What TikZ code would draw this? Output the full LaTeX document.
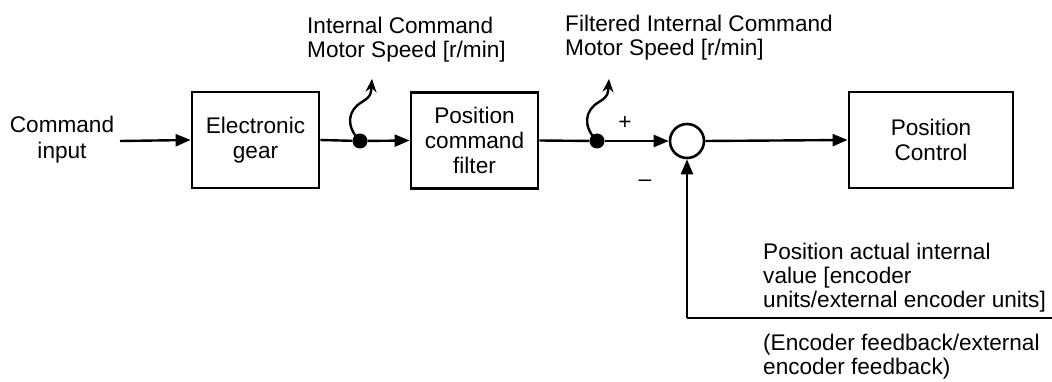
\documentclass[tikz,border=0pt]{standalone}
\usepackage{fontspec}
\setmainfont{Liberation Sans}
\usetikzlibrary{arrows.meta}
\begin{document}
\begin{tikzpicture}[x=1pt,y=-1pt,
  txt/.style={font=\fontsize{22.6}{24}\selectfont, inner sep=0pt, align=left},
  ctxt/.style={font=\fontsize{22.6}{26}\selectfont, inner sep=0pt, align=center},
  blockbox/.style={draw, line width=2.8pt, minimum height=96pt, font=\fontsize{22.6}{25}\selectfont, align=center, inner sep=0pt},
  sig/.style={line width=2.4pt, -{Triangle[length=15pt,width=12pt]}},
  dotnode/.style={circle, fill, inner sep=0pt, minimum size=15pt},
  wave/.style={line width=2.4pt, -{Stealth[length=13pt,width=11pt]}}]
\useasboundingbox (0,0) rectangle (1052,382);
% text
\node[ctxt] (cmd) at (62,140) {Command\\input};
% boxes
\node[blockbox, minimum width=127pt] (eg) at (255.5,140) {Electronic\\gear};
\node[blockbox, minimum width=127pt] (pcf) at (474.5,140.5) {Position\\command\\filter};
\node[blockbox, minimum width=164pt] (pc) at (931,140) {Position\\Control};
\node[circle, draw, line width=2.6pt, minimum size=34pt, inner sep=0pt] (sum) at (687,141) {};
% dots
\node[dotnode] (d1) at (360,141) {};
\node[dotnode] (d2) at (597,141) {};
\coordinate (w1) at (372,79);
\coordinate (w2) at (609,79);
\coordinate (cin) at (120,141);
\coordinate (fbc) at (687,318);
\coordinate (fbr) at (1052,318);
% connectors
\draw[sig] (cin) -- (eg.west);
\draw[line width=2.4pt] (eg.east) -- (d1);
\draw[sig] (d1) -- (pcf.west);
\draw[line width=2.4pt] (pcf.east) -- (d2);
\draw[sig] (d2) -- (sum.west);
\draw[sig] (sum.east) -- (pc.west);
\draw[line width=2.4pt] (fbr) -- (fbc);
\draw[sig] (fbc) -- (sum.south);
% wavy arrows
\draw[wave] (d1.center) .. controls (345,126) and (348,110) .. (362,102) .. controls (372,96) and (371,92) .. (w1);
\draw[wave] (d2.center) .. controls (582,126) and (585,110) .. (599,102) .. controls (609,96) and (608,92) .. (w2);
% labels
\node[txt, anchor=north west] (l1) at (307,17) {Internal Command\\Motor Speed [r/min]};
\node[txt, anchor=north west] (l2) at (565,15) {Filtered Internal Command\\Motor Speed [r/min]};
\node[font=\fontsize{22.6}{24}\selectfont, inner sep=0pt] (plus) at (625,123) {+};
\node[font=\fontsize{22.6}{24}\selectfont, inner sep=0pt] (minus) at (645,183) {–};
\node[txt, anchor=north west] (l3) at (763,243) {Position actual internal\\value [encoder\\units/external encoder units]};
\node[txt, anchor=north west] (l4) at (763,334) {(Encoder feedback/external\\encoder feedback)};
\end{tikzpicture}
\end{document}
